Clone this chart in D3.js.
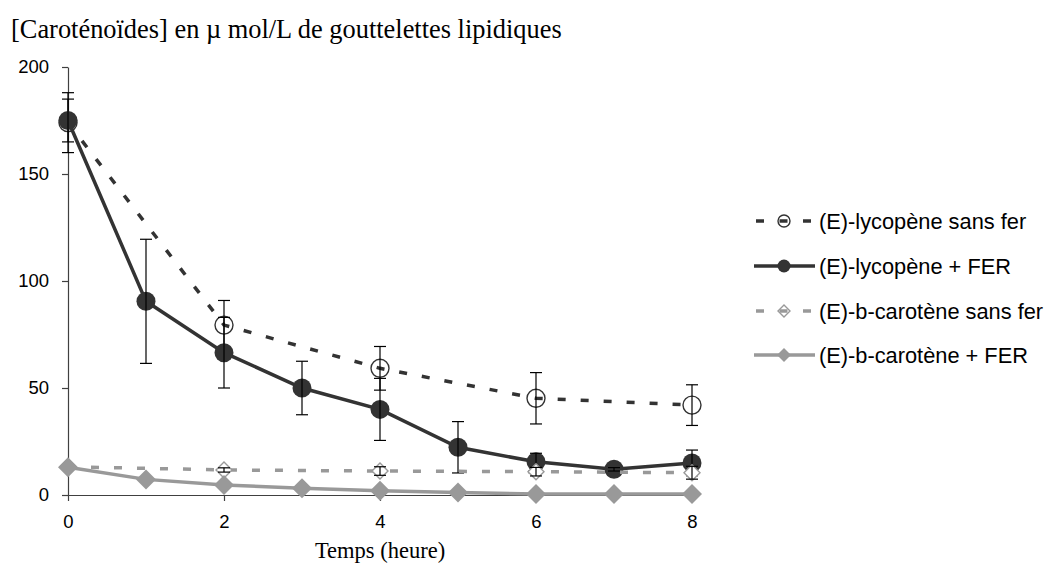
<!DOCTYPE html>
<html><head><meta charset="utf-8">
<script src="https://cdn.jsdelivr.net/npm/d3@7"></script>
<style>body{margin:0;background:#fff}</style>
</head><body>
<script>
const xEven = [0, 2, 4, 6, 8];
const xAll = [0, 1, 2, 3, 4, 5, 6, 7, 8];
const lycoSans = [174, 79.4, 59.2, 45.2, 42];
const lycoSansErr = [14, 11.5, 10.2, 12, 9.5];
const lycoFer = [175, 90.5, 66.5, 50, 40, 22.3, 15.5, 12, 15];
const lycoFerErr = [10, 29, 16.5, 12.5, 14.5, 12, 4, 0.8, 6];
const betaSans = [13.2, 11.7, 11.2, 10.9, 10.4];
const betaSansErr = [0.5, 1, 2, 2, 3];
const betaFer = [13, 7.3, 4.7, 3.1, 2, 1.2, 0.5, 0.5, 0.5];
const yTicks = [0, 50, 100, 150, 200];
const xTicks = [0, 2, 4, 6, 8];
const legendLabels = ["(E)-lycopène sans fer", "(E)-lycopène + FER", "(E)-b-carotène sans fer", "(E)-b-carotène + FER"];
const titleText = "[Caroténoïdes] en µ mol/L de gouttelettes lipidiques";
const xLabel = "Temps (heure)";

const W = 1045, H = 567;
const svg = d3.select("body").append("svg").attr("width", W).attr("height", H);
const x = d3.scaleLinear().domain([0, 8]).range([68, 692]);
const y = d3.scaleLinear().domain([0, 200]).range([495, 67]);
const dark = "#333333", gray = "#999999";

svg.append("text").attr("x", 11).attr("y", 38)
  .attr("font-family", "Liberation Serif").attr("font-size", 26.4).attr("fill", "#000").text(titleText);

const ya = svg.append("g").attr("transform", "translate(68,0)")
  .call(d3.axisLeft(y).tickValues(yTicks).tickSize(6).tickSizeOuter(0).tickPadding(13));
const xa = svg.append("g").attr("transform", "translate(0,495)")
  .call(d3.axisBottom(x).tickValues(xTicks).tickSize(6).tickSizeOuter(0).tickPadding(14));
[ya, xa].forEach(g => {
  g.selectAll("path,line").attr("stroke", "#404040").attr("stroke-width", 1.2);
  g.selectAll("text").attr("font-family", "Liberation Sans").attr("font-size", 18.5).attr("fill", "#000");
});

svg.append("text").attr("x", 380).attr("y", 558).attr("text-anchor", "middle")
  .attr("font-family", "Liberation Serif").attr("font-size", 22.5).attr("fill", "#000").text(xLabel);

const line = d3.line().x(d => x(d[0])).y(d => y(d[1]));

function errBars(xs, vals, errs) {
  const g = svg.append("g").attr("stroke", "#000").attr("stroke-width", 1.2);
  xs.forEach((xv, i) => {
    const e = errs[i]; if (!e) return;
    const cx = x(xv), y1 = y(vals[i] + e), y2 = y(vals[i] - e);
    g.append("line").attr("x1", cx).attr("x2", cx).attr("y1", y1).attr("y2", y2);
    g.append("line").attr("x1", cx - 6).attr("x2", cx + 6).attr("y1", y1).attr("y2", y1);
    g.append("line").attr("x1", cx - 6).attr("x2", cx + 6).attr("y1", y2).attr("y2", y2);
  });
}
const diamond = s => `M0,${-s}L${s},0L0,${s}L${-s},0Z`;

// Series 1: lycopene sans fer
const d1 = xEven.map((v, i) => [v, lycoSans[i]]);
svg.append("path").attr("d", line(d1)).attr("fill", "none").attr("stroke", dark)
  .attr("stroke-width", 3.5).attr("stroke-dasharray", "8,15");
svg.selectAll(".m1").data(d1).enter().append("circle")
  .attr("cx", d => x(d[0])).attr("cy", d => y(d[1])).attr("r", 9)
  .attr("fill", "none").attr("stroke", dark).attr("stroke-width", 1.4);
errBars(xEven, lycoSans, lycoSansErr);

// Series 2: lycopene + FER
const d2 = xAll.map((v, i) => [v, lycoFer[i]]);
svg.append("path").attr("d", line(d2)).attr("fill", "none").attr("stroke", dark).attr("stroke-width", 3.5);
svg.selectAll(".m2").data(d2).enter().append("circle")
  .attr("cx", d => x(d[0])).attr("cy", d => y(d[1])).attr("r", 9.5).attr("fill", dark);
errBars(xAll, lycoFer, lycoFerErr);

// Series 3: beta-carotene sans fer
const d3s = xEven.map((v, i) => [v, betaSans[i]]);
svg.append("path").attr("d", line(d3s)).attr("fill", "none").attr("stroke", gray)
  .attr("stroke-width", 3.5).attr("stroke-dasharray", "8,15");
svg.selectAll(".m3").data(d3s).enter().append("path")
  .attr("transform", d => `translate(${x(d[0])},${y(d[1])})`).attr("d", diamond(8))
  .attr("fill", "#fff").attr("stroke", gray).attr("stroke-width", 1.4);
errBars(xEven, betaSans, betaSansErr);

// Series 4: beta-carotene + FER
const d4 = xAll.map((v, i) => [v, betaFer[i]]);
svg.append("path").attr("d", line(d4)).attr("fill", "none").attr("stroke", gray).attr("stroke-width", 3.5);
svg.selectAll(".m4").data(d4).enter().append("path")
  .attr("transform", d => `translate(${x(d[0])},${y(d[1])})`).attr("d", diamond(10)).attr("fill", gray);

// Legend
const legY = [221, 266, 311, 355];
const styles = [
  {c: dark, dash: "8,15.5", m: "circle-open"},
  {c: dark, dash: null, m: "circle"},
  {c: gray, dash: "8,15.5", m: "diamond-open"},
  {c: gray, dash: null, m: "diamond"}
];
legendLabels.forEach((lab, i) => {
  const g = svg.append("g").attr("transform", `translate(0,${legY[i]})`);
  const st = styles[i];
  const ln = g.append("line").attr("x1", st.dash ? 756 : 754).attr("x2", st.dash ? 811 : 815)
    .attr("y1", 0).attr("y2", 0).attr("stroke", st.c).attr("stroke-width", 3.5);
  if (st.dash) ln.attr("stroke-dasharray", st.dash);
  if (st.m === "circle-open") g.append("circle").attr("cx", 784).attr("r", 6).attr("fill", "none").attr("stroke", st.c).attr("stroke-width", 1.4);
  if (st.m === "circle") g.append("circle").attr("cx", 784).attr("r", 6.5).attr("fill", st.c);
  if (st.m === "diamond-open") g.append("path").attr("transform", "translate(784,0)").attr("d", diamond(6)).attr("fill", "none").attr("stroke", st.c).attr("stroke-width", 1.4);
  if (st.m === "diamond") g.append("path").attr("transform", "translate(784,0)").attr("d", diamond(7)).attr("fill", st.c);
  g.append("text").attr("x", 819).attr("y", 0).attr("dy", "0.35em")
    .attr("font-family", "Liberation Sans").attr("font-size", 21.8).attr("fill", "#000").text(lab);
});
</script>
</body></html>
